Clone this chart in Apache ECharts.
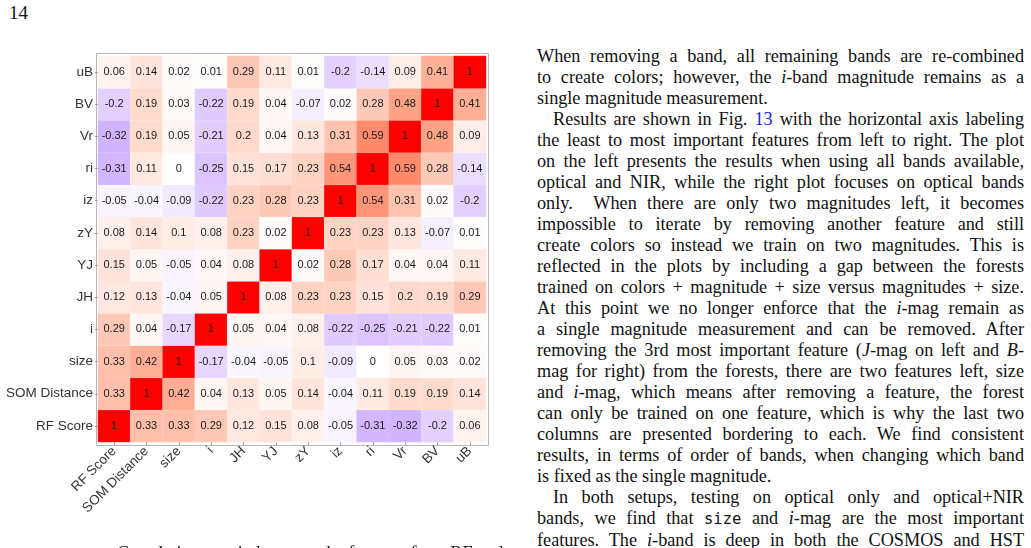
<!DOCTYPE html>
<html>
<head>
<meta charset="utf-8">
<script src="https://cdn.jsdelivr.net/npm/echarts@6/dist/echarts.min.js"></script>
<style>
body{margin:0;width:1031px;height:548px;overflow:hidden;background:#fff;position:relative;font-family:"Liberation Serif",serif;color:#111}
#pageno{position:absolute;left:9px;top:2px;font-size:19px}
#main{position:absolute;left:0;top:0;width:520px;height:548px}
#text{position:absolute;left:537px;top:46px;width:487px;font-size:18.2px;line-height:21px}
#text div{text-align:justify;text-align-last:justify;white-space:nowrap}
#text div.last{text-align-last:left}
#text div.ind{padding-left:16px}
#text i{font-style:italic}
#text .ref{color:#1a1aff}
#text code{font-family:"DejaVu Sans Mono",monospace;font-size:15.5px}
#caption{position:absolute;left:117px;top:543px;font-size:18.2px;line-height:21px;white-space:nowrap}
</style>
</head>
<body>
<div id="pageno">14</div>
<div id="main"></div>
<div id="text">
<div>When removing a band, all remaining bands are re-combined</div>
<div>to create colors; however, the <i>i</i>-band magnitude remains as a</div>
<div class="last">single magnitude measurement.</div>
<div class="ind">Results are shown in Fig. <span class="ref">13</span> with the horizontal axis labeling</div>
<div>the least to most important features from left to right. The plot</div>
<div>on the left presents the results when using all bands available,</div>
<div>optical and NIR, while the right plot focuses on optical bands</div>
<div>only. &nbsp;When there are only two magnitudes left, it becomes</div>
<div>impossible to iterate by removing another feature and still</div>
<div>create colors so instead we train on two magnitudes. This is</div>
<div>reflected in the plots by including a gap between the forests</div>
<div>trained on colors + magnitude + size versus magnitudes + size.</div>
<div>At this point we no longer enforce that the <i>i</i>-mag remain as</div>
<div>a single magnitude measurement and can be removed. After</div>
<div>removing the 3rd most important feature (<i>J</i>-mag on left and <i>B</i>-</div>
<div>mag for right) from the forests, there are two features left, size</div>
<div>and <i>i</i>-mag, which means after removing a feature, the forest</div>
<div>can only be trained on one feature, which is why the last two</div>
<div>columns are presented bordering to each. We find consistent</div>
<div>results, in terms of order of bands, when changing which band</div>
<div class="last">is fixed as the single magnitude.</div>
<div class="ind">In both setups, testing on optical only and optical+NIR</div>
<div>bands, we find that <code>size</code> and <i>i</i>-mag are the most important</div>
<div>features. The <i>i</i>-band is deep in both the COSMOS and HST</div>
</div>
<div id="caption">Correlation matrix between the features from RF and</div>
<script>
// features, bottom-to-top on y and left-to-right on x
var features = ['RF Score', 'SOM Distance', 'size', 'i', 'JH', 'YJ', 'zY', 'iz', 'ri', 'Vr', 'BV', 'uB'];

// one row per feature (y), values in the order of features (x)
var rowRF   = [1, 0.33, 0.33, 0.29, 0.12, 0.15, 0.08, -0.05, -0.31, -0.32, -0.2, 0.06];
var rowSOM  = [0.33, 1, 0.42, 0.04, 0.13, 0.05, 0.14, -0.04, 0.11, 0.19, 0.19, 0.14];
var rowSize = [0.33, 0.42, 1, -0.17, -0.04, -0.05, 0.1, -0.09, 0, 0.05, 0.03, 0.02];
var rowI    = [0.29, 0.04, -0.17, 1, 0.05, 0.04, 0.08, -0.22, -0.25, -0.21, -0.22, 0.01];
var rowJH   = [0.12, 0.13, -0.04, 0.05, 1, 0.08, 0.23, 0.23, 0.15, 0.2, 0.19, 0.29];
var rowYJ   = [0.15, 0.05, -0.05, 0.04, 0.08, 1, 0.02, 0.28, 0.17, 0.04, 0.04, 0.11];
var rowZY   = [0.08, 0.14, 0.1, 0.08, 0.23, 0.02, 1, 0.23, 0.23, 0.13, -0.07, 0.01];
var rowIZ   = [-0.05, -0.04, -0.09, -0.22, 0.23, 0.28, 0.23, 1, 0.54, 0.31, 0.02, -0.2];
var rowRI   = [-0.31, 0.11, 0, -0.25, 0.15, 0.17, 0.23, 0.54, 1, 0.59, 0.28, -0.14];
var rowVR   = [-0.32, 0.19, 0.05, -0.21, 0.2, 0.04, 0.13, 0.31, 0.59, 1, 0.48, 0.09];
var rowBV   = [-0.2, 0.19, 0.03, -0.22, 0.19, 0.04, -0.07, 0.02, 0.28, 0.48, 1, 0.41];
var rowUB   = [0.06, 0.14, 0.02, 0.01, 0.29, 0.11, 0.01, -0.2, -0.14, 0.09, 0.41, 1];

var rows = [rowRF, rowSOM, rowSize, rowI, rowJH, rowYJ, rowZY, rowIZ, rowRI, rowVR, rowBV, rowUB];

var cells = [];
rows.forEach(function (row, y) {
    row.forEach(function (v, x) {
        cells.push([x, y, v]);
    });
});

var chart = echarts.init(document.getElementById('main'));
chart.setOption({
    animation: false,
    grid: { left: 98, top: 56, width: 388, height: 386 },
    xAxis: {
        type: 'category',
        data: features,
        axisLine: { show: false },
        axisTick: { show: true, alignWithLabel: true, length: 3, lineStyle: { color: '#999' } },
        axisLabel: { rotate: 45, margin: 7, fontSize: 13.5, color: '#333', fontFamily: 'Liberation Sans' },
        splitLine: { show: false }
    },
    yAxis: {
        type: 'category',
        data: features,
        axisLine: { show: false },
        axisTick: { show: true, alignWithLabel: true, length: 3, lineStyle: { color: '#999' } },
        axisLabel: { margin: 5, fontSize: 13.5, color: '#333', fontFamily: 'Liberation Sans' },
        splitLine: { show: false }
    },
    visualMap: {
        show: false,
        min: -1,
        max: 1,
        dimension: 2,
        inRange: {
            color: ['#0000FF', '#7E52FF', '#B38BFF', '#DCC4FF', '#FFFFFF', '#FFCFBF', '#FF9E81', '#FF6846', '#FF0000']
        }
    },
    graphic: [{
        type: 'rect',
        shape: { x: 96.5, y: 53.5, width: 392, height: 392 },
        style: { fill: 'none', stroke: '#b8b8b8', lineWidth: 1 },
        silent: true
    }],
    series: [{
        type: 'heatmap',
        data: cells,
        itemStyle: { borderColor: 'rgba(255,255,255,0.3)', borderWidth: 0.5 },
        label: {
            show: true,
            fontSize: 11,
            color: '#1a1a1a',
            fontFamily: 'Liberation Sans',
            formatter: function (p) { return String(p.value[2]); }
        },
        emphasis: { disabled: true }
    }]
});
</script>
</body>
</html>
